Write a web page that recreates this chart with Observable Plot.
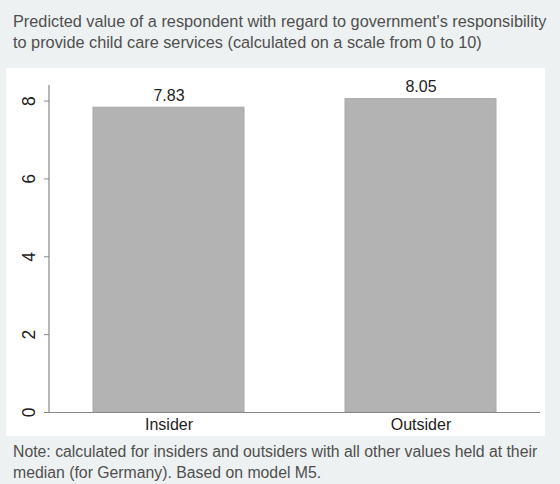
<!DOCTYPE html>
<html>
<head>
<meta charset="utf-8">
<script src="https://cdn.jsdelivr.net/npm/d3@7"></script>
<script src="https://cdn.jsdelivr.net/npm/@observablehq/plot@0.6"></script>
<style>
  html, body { margin: 0; padding: 0; }
  body { width: 560px; height: 484px; overflow: hidden; font-family: "Liberation Sans", Arial, sans-serif; }
  #wrap { position: relative; width: 560px; height: 484px; background: #edf1f1; }
  #inner { position: absolute; left: 6px; top: 68px; width: 539px; height: 368px; background: #ffffff; }
  #title { position: absolute; left: 13px; top: 11px; font-size: 16.3px; line-height: 21px; color: #4f4f4f; white-space: nowrap; }
  #chart { position: absolute; left: 0; top: 60px; }
  #chart svg g[aria-label="y-axis tick label"] { font-size: 17.5px; }
  #note { position: absolute; left: 13px; top: 441px; font-size: 15.8px; line-height: 21px; color: #4f4f4f; white-space: nowrap; }
</style>
</head>
<body>
<div id="wrap">
  <div id="inner"></div>
  <div id="title">Predicted value of a respondent with regard to government's responsibility<br>to provide child care services (calculated on a scale from 0 to 10)</div>
  <div id="chart"></div>
  <div id="note">Note: calculated for insiders and outsiders with all other values held at their<br>median (for Germany). Based on model M5.</div>
</div>
<script>
const categories = ["Insider", "Outsider"];
const values = [7.83, 8.05];
const valueLabels = ["7.83", "8.05"];
const yTicks = [0, 2, 4, 6, 8];

const data = categories.map((c, i) => ({category: c, value: values[i], label: valueLabels[i]}));

// vertical y-axis line drawn along the left edge of the plot frame
function yAxisLine(index, scales, values, dim) {
  const ns = "http://www.w3.org/2000/svg";
  const line = document.createElementNS(ns, "line");
  line.setAttribute("x1", dim.marginLeft);
  line.setAttribute("x2", dim.marginLeft);
  line.setAttribute("y1", dim.marginTop);
  line.setAttribute("y2", dim.height - dim.marginBottom);
  line.setAttribute("stroke", "#888");
  line.setAttribute("stroke-width", "1.2");
  return line;
}

const chart = Plot.plot({
  width: 560,
  height: 380,
  marginLeft: 49,
  marginRight: 20,
  marginTop: 25,
  marginBottom: 28,
  style: {background: "transparent", fontFamily: "'Liberation Sans', Arial, sans-serif", color: "#222"},
  x: {domain: categories, paddingInner: 0.4025, paddingOuter: 0.174, label: null},
  y: {domain: [0, 8.4], label: null},
  marks: [
    Plot.barY(data, {x: "category", y: "value", fill: "#b3b3b3", stroke: "#a8a8a8", strokeWidth: 1}),
    Plot.text(data, {x: "category", y: "value", text: "label", dy: -7, lineAnchor: "bottom", fontSize: 16, fill: "#222"}),
    Plot.axisY({ticks: yTicks, tickFormat: d => String(d), tickSize: 5, tickPadding: 10, tickRotate: -90, fontSize: 17.5, stroke: "#888", fill: "#222", textAnchor: "middle", lineAnchor: "bottom"}),
    yAxisLine,
    Plot.axisX({tickSize: 0, tickPadding: 6, fontSize: 16, fill: "#222", label: null}),
    Plot.ruleY([0], {stroke: "#888", strokeWidth: 1.2})
  ]
});
document.getElementById("chart").appendChild(chart);
</script>
</body>
</html>
